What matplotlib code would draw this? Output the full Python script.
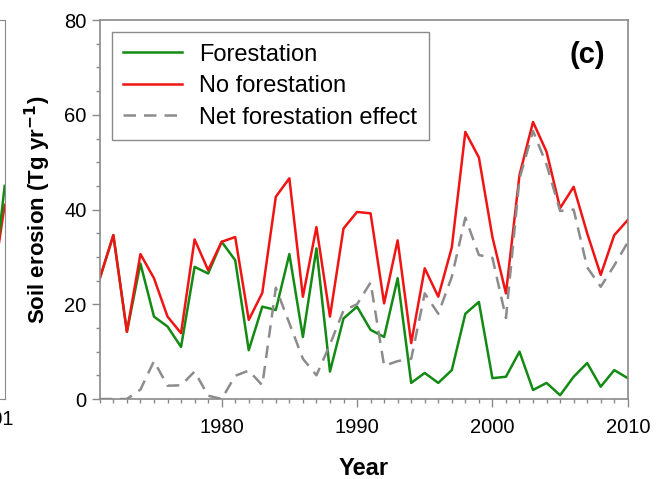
import numpy as np
import matplotlib
matplotlib.use("Agg")
import matplotlib.pyplot as plt
from matplotlib.ticker import MultipleLocator

plt.rcParams['font.family'] = ['Liberation Sans', 'DejaVu Sans']

years = np.arange(1971, 2011)

forestation = [25.5, 34.6, 14.2, 28.6, 17.4, 15.3, 11.0, 27.9, 26.5, 33.2,
               29.3, 10.3, 19.5, 18.8, 30.6, 13.1, 31.8, 5.8, 17.0, 19.5,
               14.6, 13.1, 25.5, 3.4, 5.5, 3.4, 6.1, 18.0, 20.5, 4.4,
               4.7, 10.0, 1.9, 3.4, 0.8, 4.7, 7.6, 2.6, 6.1, 4.4]

no_forestation = [25.5, 34.6, 14.2, 30.6, 25.5, 17.4, 13.9, 33.7, 27.2, 33.2,
                  34.2, 16.7, 22.4, 42.7, 46.6, 21.6, 36.3, 17.4, 36.0, 39.5,
                  39.2, 20.2, 33.5, 11.8, 27.6, 21.6, 32.0, 56.4, 51.0, 34.2,
                  22.3, 47.3, 58.5, 52.2, 40.3, 44.8, 35.0, 26.2, 34.6, 37.8]

net_effect = [0.0, 0.0, 0.0, 2.0, 8.0, 2.8, 2.9, 5.8, 0.7, 0.0,
              4.9, 6.0, 2.9, 23.5, 16.0, 8.5, 5.0, 11.5, 18.7, 20.0,
              24.6, 7.0, 8.0, 8.5, 22.3, 18.0, 25.8, 38.3, 30.4, 29.8,
              17.1, 46.5, 56.6, 49.5, 39.7, 40.0, 27.8, 23.7, 28.2, 33.1]

# tail of the neighbouring panel (b), only its right edge is visible
left_years = [2001, 2002]
left_forestation = [20.0, 45.0]
left_no_forestation = [22.0, 41.0]

green = '#138a13'
red = '#f01414'
grey = '#8c8c8c'
spine_col = '#8a8a8a'

fig = plt.figure(figsize=(6.7, 4.79), dpi=100)

# partial neighbouring panel
ax0 = fig.add_axes([-0.597, 0.167, 0.604, 0.791])
ax0.plot(left_years, left_no_forestation, color=red, lw=1.8)
ax0.plot(left_years, left_forestation, color=green, lw=1.8)
ax0.set_xlim(1972, 2002)
ax0.set_ylim(0, 80)
ax0.set_xticks([2001])
ax0.set_xticklabels(['2001'], fontsize=14.5)
ax0.tick_params(axis='x', length=0, pad=8)
ax0.set_yticks([])
for s in ax0.spines.values():
    s.set_color(spine_col)

ax = fig.add_axes([0.149, 0.167, 0.788, 0.791])
ax.plot(years, forestation, color=green, lw=1.8, label='Forestation')
ax.plot(years, no_forestation, color=red, lw=1.8, label='No forestation')
ax.plot(years, net_effect, color=grey, lw=1.8, dashes=(5, 3.2),
        label='Net forestation effect')

ax.set_xlim(1971, 2010)
ax.set_ylim(0, 80)
ax.xaxis.set_major_locator(MultipleLocator(10))
ax.xaxis.set_minor_locator(MultipleLocator(1))
ax.yaxis.set_major_locator(MultipleLocator(20))
ax.yaxis.set_minor_locator(MultipleLocator(5))
ax.tick_params(axis='both', which='major', labelsize=14.5, length=6,
               color=spine_col, width=1)
ax.tick_params(axis='both', which='minor', length=3, color=spine_col, width=1)
ax.tick_params(axis='x', pad=8)
for s in ax.spines.values():
    s.set_color(spine_col)
    s.set_linewidth(1.2)

ax.set_xlabel('Year', fontsize=17, fontweight='bold', labelpad=14)
ax.set_ylabel('Soil erosion (Tg yr$^{\\mathbf{-1}}$)', fontsize=16,
              fontweight='bold', labelpad=8)

ax.text(0.958, 0.908, '(c)', transform=ax.transAxes, fontsize=21,
        fontweight='bold', ha='right', va='center')

leg = ax.legend(loc='upper left', fontsize=17, frameon=True, fancybox=False,
                handlelength=2.5, borderaxespad=0.5, labelspacing=0.4,
                handletextpad=0.7, borderpad=0.5)
leg.get_frame().set_edgecolor('#6e6e6e')
leg.get_frame().set_linewidth(1.0)

fig.savefig('out.png', dpi=100)
